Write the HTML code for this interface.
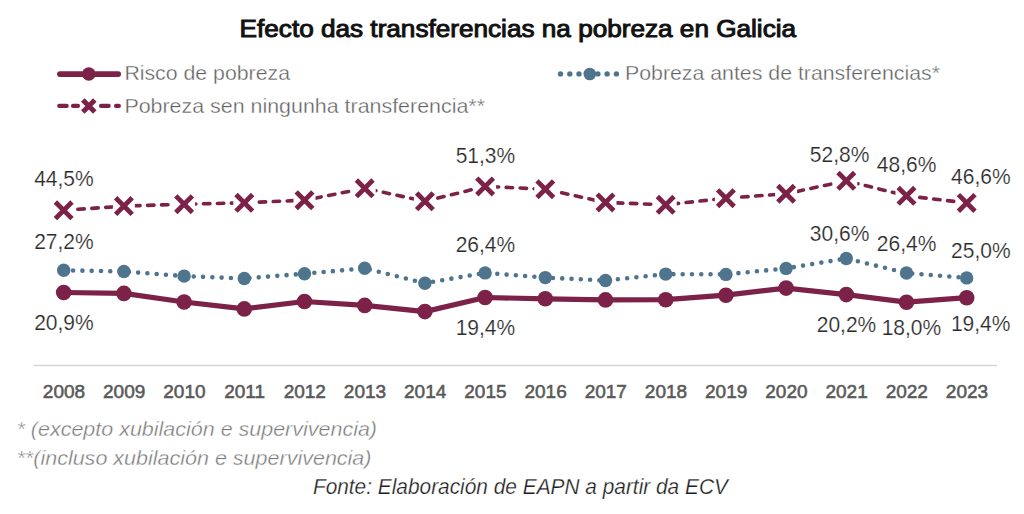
<!DOCTYPE html>
<html><head><meta charset="utf-8"><title>Efecto das transferencias na pobreza en Galicia</title>
<style>
html,body{margin:0;padding:0;background:#fff;}
body{width:1024px;height:514px;overflow:hidden;font-family:"Liberation Sans", sans-serif;}
svg{display:block;}
</style></head>
<body>
<svg width="1024" height="514" viewBox="0 0 1024 514">
<text x="239.6" y="37.3" font-family='"Liberation Sans", sans-serif' font-size="23" fill="#111" stroke="#111" stroke-width="0.95" textLength="556.5"  lengthAdjust="spacingAndGlyphs">Efecto das transferencias na pobreza en Galicia</text>
<line x1="59.9" y1="74.1" x2="118.2" y2="74.1" stroke="#7c2249" stroke-width="5.7" stroke-linecap="round"/>
<circle cx="88.8" cy="74.0" r="6.8" fill="#7c2249"/>
<text x="124.4" y="80.1" font-family='"Liberation Sans", sans-serif' font-size="21" fill="#606060" stroke="#fff" stroke-width="0.35" textLength="165.6" lengthAdjust="spacingAndGlyphs">Risco de pobreza</text>
<line x1="59.2" y1="105.9" x2="66.7" y2="105.9" stroke="#7c2249" stroke-width="4.1" stroke-linecap="round"/>
<line x1="73" y1="105.9" x2="78" y2="105.9" stroke="#7c2249" stroke-width="4.1" stroke-linecap="round"/>
<line x1="101" y1="105.9" x2="108.7" y2="105.9" stroke="#7c2249" stroke-width="4.1" stroke-linecap="round"/>
<line x1="116" y1="105.9" x2="118.9" y2="105.9" stroke="#7c2249" stroke-width="4.1" stroke-linecap="round"/>
<path d="M82.80,99.90L94.80,111.90M82.80,111.90L94.80,99.90" stroke="#7c2249" stroke-width="5.0" fill="none"/>
<text x="124.4" y="112.9" font-family='"Liberation Sans", sans-serif' font-size="21" fill="#606060" stroke="#fff" stroke-width="0.35" textLength="360.6" lengthAdjust="spacingAndGlyphs">Pobreza sen ningunha transferencia**</text>
<circle cx="560.5" cy="73.9" r="2.7" fill="#4f748e"/>
<circle cx="569.8" cy="73.9" r="2.7" fill="#4f748e"/>
<circle cx="579" cy="73.9" r="2.7" fill="#4f748e"/>
<circle cx="597.9" cy="73.9" r="2.7" fill="#4f748e"/>
<circle cx="607.1" cy="73.9" r="2.7" fill="#4f748e"/>
<circle cx="616.4" cy="73.9" r="2.7" fill="#4f748e"/>
<circle cx="589.8" cy="74.0" r="6.3" fill="#4f748e"/>
<text x="625.0" y="80.1" font-family='"Liberation Sans", sans-serif' font-size="21" fill="#606060" stroke="#fff" stroke-width="0.35" textLength="315" lengthAdjust="spacingAndGlyphs">Pobreza antes de transferencias*</text>
<line x1="33.7" y1="365.5" x2="997" y2="365.5" stroke="#d6d6d6" stroke-width="1.6"/>
<polyline points="63.7,210.3 123.9,206.1 184.1,204.2 244.3,202.8 304.5,200.2 364.7,188.3 424.9,201.3 485.1,186.4 545.3,189.2 605.5,202.4 665.7,204.8 725.9,198.2 786.1,193.8 846.3,180.8 906.5,195.8 966.7,202.9" fill="none" stroke="#7c2249" stroke-width="3.6" stroke-dasharray="6.4 7.565" stroke-dashoffset="-0.26" stroke-linecap="round" stroke-linejoin="round"/>
<polyline points="63.7,270.3 123.9,271.5 184.1,276.1 244.3,278.5 304.5,273.7 364.7,268.3 424.9,283.2 485.1,272.9 545.3,277.6 605.5,280.5 665.7,274.1 725.9,274.4 786.1,268.4 846.3,258.5 906.5,273.0 966.7,277.9" fill="none" stroke="#4f748e" stroke-width="4.6" stroke-dasharray="0 9.296" stroke-dashoffset="-0.11" stroke-linecap="round" stroke-linejoin="round"/>
<polyline points="63.7,292.5 123.9,293.4 184.1,302.0 244.3,308.9 304.5,301.5 364.7,305.4 424.9,311.6 485.1,297.5 545.3,298.8 605.5,299.9 665.7,299.7 725.9,295.2 786.1,288.1 846.3,294.6 906.5,302.2 966.7,297.7" fill="none" stroke="#7c2249" stroke-width="5.2" stroke-linejoin="round"/>
<rect x="52.7" y="199.3" width="22" height="22" fill="#fff"/>
<path d="M55.40,202.05L72.00,218.65M55.40,218.65L72.00,202.05" stroke="#7c2249" stroke-width="4.8" fill="none"/>
<rect x="112.9" y="195.1" width="22" height="22" fill="#fff"/>
<path d="M115.60,197.80L132.20,214.40M115.60,214.40L132.20,197.80" stroke="#7c2249" stroke-width="4.8" fill="none"/>
<rect x="173.1" y="193.2" width="22" height="22" fill="#fff"/>
<path d="M175.80,195.85L192.40,212.45M175.80,212.45L192.40,195.85" stroke="#7c2249" stroke-width="4.8" fill="none"/>
<rect x="233.3" y="191.8" width="22" height="22" fill="#fff"/>
<path d="M236.00,194.55L252.60,211.15M236.00,211.15L252.60,194.55" stroke="#7c2249" stroke-width="4.8" fill="none"/>
<rect x="293.5" y="189.2" width="22" height="22" fill="#fff"/>
<path d="M296.20,191.90L312.80,208.50M296.20,208.50L312.80,191.90" stroke="#7c2249" stroke-width="4.8" fill="none"/>
<rect x="353.7" y="177.3" width="22" height="22" fill="#fff"/>
<path d="M356.40,180.00L373.00,196.60M356.40,196.60L373.00,180.00" stroke="#7c2249" stroke-width="4.8" fill="none"/>
<rect x="413.9" y="190.3" width="22" height="22" fill="#fff"/>
<path d="M416.60,193.05L433.20,209.65M416.60,209.65L433.20,193.05" stroke="#7c2249" stroke-width="4.8" fill="none"/>
<rect x="474.1" y="175.4" width="22" height="22" fill="#fff"/>
<path d="M476.80,178.15L493.40,194.75M476.80,194.75L493.40,178.15" stroke="#7c2249" stroke-width="4.8" fill="none"/>
<rect x="534.3" y="178.2" width="22" height="22" fill="#fff"/>
<path d="M537.00,180.90L553.60,197.50M537.00,197.50L553.60,180.90" stroke="#7c2249" stroke-width="4.8" fill="none"/>
<rect x="594.5" y="191.4" width="22" height="22" fill="#fff"/>
<path d="M597.20,194.15L613.80,210.75M597.20,210.75L613.80,194.15" stroke="#7c2249" stroke-width="4.8" fill="none"/>
<rect x="654.7" y="193.8" width="22" height="22" fill="#fff"/>
<path d="M657.40,196.55L674.00,213.15M657.40,213.15L674.00,196.55" stroke="#7c2249" stroke-width="4.8" fill="none"/>
<rect x="714.9" y="187.2" width="22" height="22" fill="#fff"/>
<path d="M717.60,189.85L734.20,206.45M717.60,206.45L734.20,189.85" stroke="#7c2249" stroke-width="4.8" fill="none"/>
<rect x="775.1" y="182.8" width="22" height="22" fill="#fff"/>
<path d="M777.80,185.45L794.40,202.05M777.80,202.05L794.40,185.45" stroke="#7c2249" stroke-width="4.8" fill="none"/>
<rect x="835.3" y="169.8" width="22" height="22" fill="#fff"/>
<path d="M838.00,172.55L854.60,189.15M838.00,189.15L854.60,172.55" stroke="#7c2249" stroke-width="4.8" fill="none"/>
<rect x="895.5" y="184.8" width="22" height="22" fill="#fff"/>
<path d="M898.20,187.55L914.80,204.15M898.20,204.15L914.80,187.55" stroke="#7c2249" stroke-width="4.8" fill="none"/>
<rect x="955.7" y="191.9" width="22" height="22" fill="#fff"/>
<path d="M958.40,194.65L975.00,211.25M958.40,211.25L975.00,194.65" stroke="#7c2249" stroke-width="4.8" fill="none"/>
<circle cx="63.7" cy="270.3" r="6.7" fill="#4f748e"/>
<circle cx="123.9" cy="271.5" r="6.7" fill="#4f748e"/>
<circle cx="184.1" cy="276.1" r="6.7" fill="#4f748e"/>
<circle cx="244.3" cy="278.5" r="6.7" fill="#4f748e"/>
<circle cx="304.5" cy="273.7" r="6.7" fill="#4f748e"/>
<circle cx="364.7" cy="268.3" r="6.7" fill="#4f748e"/>
<circle cx="424.9" cy="283.2" r="6.7" fill="#4f748e"/>
<circle cx="485.1" cy="272.9" r="6.7" fill="#4f748e"/>
<circle cx="545.3" cy="277.6" r="6.7" fill="#4f748e"/>
<circle cx="605.5" cy="280.5" r="6.7" fill="#4f748e"/>
<circle cx="665.7" cy="274.1" r="6.7" fill="#4f748e"/>
<circle cx="725.9" cy="274.4" r="6.7" fill="#4f748e"/>
<circle cx="786.1" cy="268.4" r="6.7" fill="#4f748e"/>
<circle cx="846.3" cy="258.5" r="6.7" fill="#4f748e"/>
<circle cx="906.5" cy="273.0" r="6.7" fill="#4f748e"/>
<circle cx="966.7" cy="277.9" r="6.7" fill="#4f748e"/>
<circle cx="63.7" cy="292.5" r="7.8" fill="#7c2249"/>
<circle cx="123.9" cy="293.4" r="7.8" fill="#7c2249"/>
<circle cx="184.1" cy="302.0" r="7.8" fill="#7c2249"/>
<circle cx="244.3" cy="308.9" r="7.8" fill="#7c2249"/>
<circle cx="304.5" cy="301.5" r="7.8" fill="#7c2249"/>
<circle cx="364.7" cy="305.4" r="7.8" fill="#7c2249"/>
<circle cx="424.9" cy="311.6" r="7.8" fill="#7c2249"/>
<circle cx="485.1" cy="297.5" r="7.8" fill="#7c2249"/>
<circle cx="545.3" cy="298.8" r="7.8" fill="#7c2249"/>
<circle cx="605.5" cy="299.9" r="7.8" fill="#7c2249"/>
<circle cx="665.7" cy="299.7" r="7.8" fill="#7c2249"/>
<circle cx="725.9" cy="295.2" r="7.8" fill="#7c2249"/>
<circle cx="786.1" cy="288.1" r="7.8" fill="#7c2249"/>
<circle cx="846.3" cy="294.6" r="7.8" fill="#7c2249"/>
<circle cx="906.5" cy="302.2" r="7.8" fill="#7c2249"/>
<circle cx="966.7" cy="297.7" r="7.8" fill="#7c2249"/>
<text x="63.9" y="186.1" text-anchor="middle" font-family='"Liberation Sans", sans-serif' font-size="22" fill="#2b2b2b" stroke="#fff" stroke-width="0.2" textLength="59.5" lengthAdjust="spacingAndGlyphs">44,5%</text>
<text x="63.9" y="249.2" text-anchor="middle" font-family='"Liberation Sans", sans-serif' font-size="22" fill="#2b2b2b" stroke="#fff" stroke-width="0.2" textLength="59.5" lengthAdjust="spacingAndGlyphs">27,2%</text>
<text x="63.9" y="329.8" text-anchor="middle" font-family='"Liberation Sans", sans-serif' font-size="22" fill="#2b2b2b" stroke="#fff" stroke-width="0.2" textLength="59.5" lengthAdjust="spacingAndGlyphs">20,9%</text>
<text x="485.4" y="162.5" text-anchor="middle" font-family='"Liberation Sans", sans-serif' font-size="22" fill="#2b2b2b" stroke="#fff" stroke-width="0.2" textLength="59.5" lengthAdjust="spacingAndGlyphs">51,3%</text>
<text x="485.4" y="251.6" text-anchor="middle" font-family='"Liberation Sans", sans-serif' font-size="22" fill="#2b2b2b" stroke="#fff" stroke-width="0.2" textLength="59.5" lengthAdjust="spacingAndGlyphs">26,4%</text>
<text x="485.4" y="334.8" text-anchor="middle" font-family='"Liberation Sans", sans-serif' font-size="22" fill="#2b2b2b" stroke="#fff" stroke-width="0.2" textLength="59.5" lengthAdjust="spacingAndGlyphs">19,4%</text>
<text x="839.6" y="161.9" text-anchor="middle" font-family='"Liberation Sans", sans-serif' font-size="22" fill="#2b2b2b" stroke="#fff" stroke-width="0.2" textLength="59.5" lengthAdjust="spacingAndGlyphs">52,8%</text>
<text x="839.6" y="241.2" text-anchor="middle" font-family='"Liberation Sans", sans-serif' font-size="22" fill="#2b2b2b" stroke="#fff" stroke-width="0.2" textLength="59.5" lengthAdjust="spacingAndGlyphs">30,6%</text>
<text x="846.5" y="332.0" text-anchor="middle" font-family='"Liberation Sans", sans-serif' font-size="22" fill="#2b2b2b" stroke="#fff" stroke-width="0.2" textLength="59.5" lengthAdjust="spacingAndGlyphs">20,2%</text>
<text x="906.6" y="172.2" text-anchor="middle" font-family='"Liberation Sans", sans-serif' font-size="22" fill="#2b2b2b" stroke="#fff" stroke-width="0.2" textLength="59.5" lengthAdjust="spacingAndGlyphs">48,6%</text>
<text x="906.6" y="251.3" text-anchor="middle" font-family='"Liberation Sans", sans-serif' font-size="22" fill="#2b2b2b" stroke="#fff" stroke-width="0.2" textLength="59.5" lengthAdjust="spacingAndGlyphs">26,4%</text>
<text x="911.4" y="334.8" text-anchor="middle" font-family='"Liberation Sans", sans-serif' font-size="22" fill="#2b2b2b" stroke="#fff" stroke-width="0.2" textLength="59.5" lengthAdjust="spacingAndGlyphs">18,0%</text>
<text x="980.8" y="183.8" text-anchor="middle" font-family='"Liberation Sans", sans-serif' font-size="22" fill="#2b2b2b" stroke="#fff" stroke-width="0.2" textLength="59.5" lengthAdjust="spacingAndGlyphs">46,6%</text>
<text x="980.8" y="258.3" text-anchor="middle" font-family='"Liberation Sans", sans-serif' font-size="22" fill="#2b2b2b" stroke="#fff" stroke-width="0.2" textLength="59.5" lengthAdjust="spacingAndGlyphs">25,0%</text>
<text x="980.7" y="330.5" text-anchor="middle" font-family='"Liberation Sans", sans-serif' font-size="22" fill="#2b2b2b" stroke="#fff" stroke-width="0.2" textLength="59.5" lengthAdjust="spacingAndGlyphs">19,4%</text>
<text x="64.0" y="397.9" text-anchor="middle" font-family='"Liberation Sans", sans-serif' font-size="19" fill="#595959" stroke="#595959" stroke-width="0.55">2008</text>
<text x="124.2" y="397.9" text-anchor="middle" font-family='"Liberation Sans", sans-serif' font-size="19" fill="#595959" stroke="#595959" stroke-width="0.55">2009</text>
<text x="184.4" y="397.9" text-anchor="middle" font-family='"Liberation Sans", sans-serif' font-size="19" fill="#595959" stroke="#595959" stroke-width="0.55">2010</text>
<text x="244.6" y="397.9" text-anchor="middle" font-family='"Liberation Sans", sans-serif' font-size="19" fill="#595959" stroke="#595959" stroke-width="0.55">2011</text>
<text x="304.8" y="397.9" text-anchor="middle" font-family='"Liberation Sans", sans-serif' font-size="19" fill="#595959" stroke="#595959" stroke-width="0.55">2012</text>
<text x="365.0" y="397.9" text-anchor="middle" font-family='"Liberation Sans", sans-serif' font-size="19" fill="#595959" stroke="#595959" stroke-width="0.55">2013</text>
<text x="425.2" y="397.9" text-anchor="middle" font-family='"Liberation Sans", sans-serif' font-size="19" fill="#595959" stroke="#595959" stroke-width="0.55">2014</text>
<text x="485.4" y="397.9" text-anchor="middle" font-family='"Liberation Sans", sans-serif' font-size="19" fill="#595959" stroke="#595959" stroke-width="0.55">2015</text>
<text x="545.6" y="397.9" text-anchor="middle" font-family='"Liberation Sans", sans-serif' font-size="19" fill="#595959" stroke="#595959" stroke-width="0.55">2016</text>
<text x="605.8" y="397.9" text-anchor="middle" font-family='"Liberation Sans", sans-serif' font-size="19" fill="#595959" stroke="#595959" stroke-width="0.55">2017</text>
<text x="666.0" y="397.9" text-anchor="middle" font-family='"Liberation Sans", sans-serif' font-size="19" fill="#595959" stroke="#595959" stroke-width="0.55">2018</text>
<text x="726.2" y="397.9" text-anchor="middle" font-family='"Liberation Sans", sans-serif' font-size="19" fill="#595959" stroke="#595959" stroke-width="0.55">2019</text>
<text x="786.4" y="397.9" text-anchor="middle" font-family='"Liberation Sans", sans-serif' font-size="19" fill="#595959" stroke="#595959" stroke-width="0.55">2020</text>
<text x="846.6" y="397.9" text-anchor="middle" font-family='"Liberation Sans", sans-serif' font-size="19" fill="#595959" stroke="#595959" stroke-width="0.55">2021</text>
<text x="906.8" y="397.9" text-anchor="middle" font-family='"Liberation Sans", sans-serif' font-size="19" fill="#595959" stroke="#595959" stroke-width="0.55">2022</text>
<text x="967.0" y="397.9" text-anchor="middle" font-family='"Liberation Sans", sans-serif' font-size="19" fill="#595959" stroke="#595959" stroke-width="0.55">2023</text>
<text x="16.5" y="436.2" font-family='"Liberation Sans", sans-serif' font-style="italic" font-size="20" fill="#7a7a7a" stroke="#fff" stroke-width="0.35" textLength="360.5" lengthAdjust="spacingAndGlyphs">* (excepto xubilación e supervivencia)</text>
<text x="16.5" y="465.0" font-family='"Liberation Sans", sans-serif' font-style="italic" font-size="20" fill="#7a7a7a" stroke="#fff" stroke-width="0.35" textLength="355" lengthAdjust="spacingAndGlyphs">**(incluso xubilación e supervivencia)</text>
<text x="312.9" y="493.9" font-family='"Liberation Sans", sans-serif' font-style="italic" font-size="21.2" fill="#1e1e1e" stroke="#fff" stroke-width="0.25" textLength="415" lengthAdjust="spacingAndGlyphs">Fonte: Elaboración de EAPN a partir da ECV</text>
</svg>
</body></html>
